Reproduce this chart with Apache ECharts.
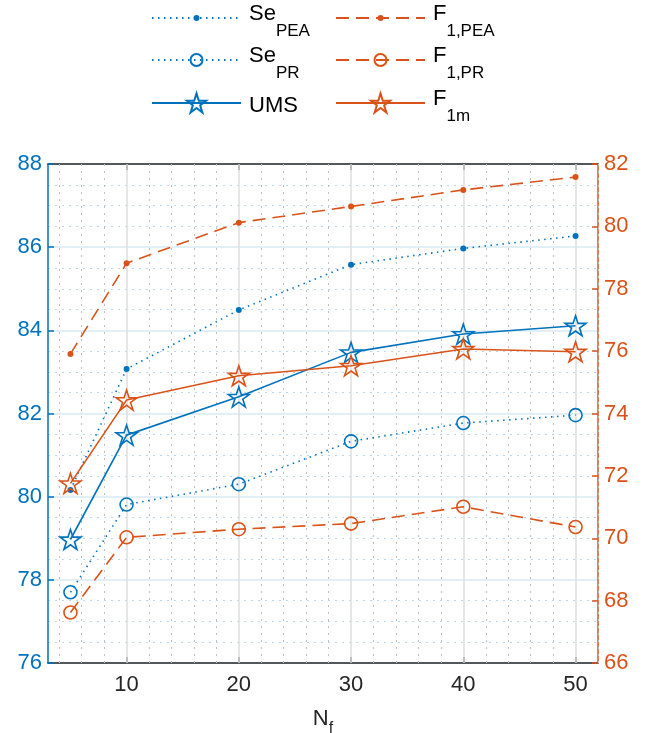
<!DOCTYPE html>
<html><head><meta charset="utf-8">
<script src="https://cdn.jsdelivr.net/npm/echarts@6/dist/echarts.min.js"></script>
<style>html,body{margin:0;padding:0;background:#fff}#c{width:646px;height:733px}</style>
</head><body><div id="c"></div>
<script>
// ---- data ----
const nf = [5, 10, 20, 30, 40, 50];
const sePEA = [80.16, 83.07, 84.49, 85.58, 85.97, 86.27];
const sePR  = [77.70, 79.81, 80.30, 81.33, 81.77, 81.96];
const ums   = [78.97, 81.48, 82.40, 83.47, 83.91, 84.11];
const f1PEA = [75.91, 78.82, 80.12, 80.64, 81.17, 81.58];
const f1PR  = [67.62, 70.03, 70.29, 70.47, 71.01, 70.36];
const f1m   = [71.76, 74.43, 75.21, 75.53, 76.07, 75.98];
const xTicks = [10, 20, 30, 40, 50];
const xMinor = [4, 6, 8, 12, 14, 16, 18, 22, 24, 26, 28, 32, 34, 36, 38, 42, 44, 46, 48, 52];

// ---- style ----
const BLUE = '#0072BD', ORANGE = '#D95319', DARK = '#262626';
const FONT = 'Liberation Sans';
const STAR = 'path://M50 0 L61.23 34.55 L97.55 34.55 L68.16 55.9 L79.39 90.45 L50 69.1 L20.61 90.45 L31.84 55.9 L2.45 34.55 L38.77 34.55 Z';
const DOT = [1.5, 4.5], DASH = [13, 7];

function pairs(ys) { return nf.map((x, i) => [x, ys[i]]); }
function mk(name, ys, yIdx, color, lineType, symbol, size, filled) {
  return {
    name, type: 'line', xAxisIndex: 0, yAxisIndex: yIdx, data: pairs(ys),
    symbol, symbolSize: size, symbolKeepAspect: true, showAllSymbol: true,
    lineStyle: { color, width: 1.6, type: lineType },
    itemStyle: { color: filled ? color : 'rgba(255,255,255,0)', borderColor: color, borderWidth: filled ? 0 : 1.6 },
    emphasis: { disabled: true }, animation: false, z: 3, silent: true
  };
}

const RICH = {
  m: { fontSize: 22, fontFamily: FONT, color: '#000', lineHeight: 22, padding: [0, 0, 8, 3] },
  s: { fontSize: 17, fontFamily: FONT, color: '#000', lineHeight: 17, padding: [26, 0, 0, 0] },
  u: { fontSize: 22, fontFamily: FONT, color: '#000', lineHeight: 22, padding: [6, 0, 0, 3] }
};
function lg(name, left, top, ih, label) {
  return {
    data: [name], left, top, orient: 'vertical', padding: 0, itemWidth: 89, itemHeight: ih,
    selectedMode: false, textStyle: { fontFamily: FONT, color: '#000', rich: RICH },
    formatter: () => label
  };
}

const gridMarks = xMinor.map(v => ({ xAxis: v, lineStyle: { color: 'rgb(190,190,190)', type: [2, 5], width: 1 } }))
  .concat(xTicks.map(v => ({ xAxis: v, lineStyle: { color: 'rgb(222,222,222)', type: 'solid', width: 1.5 } })));

const option = {
  backgroundColor: '#fff',
  animation: false,
  grid: { left: 48, right: 48, top: 164, bottom: 70, containLabel: false, outerBoundsMode: 'none' },
  legend: [
    lg('SePEA', 151, -3.5, 7.5, '{m|Se}{s|PEA}'),
    lg('SePR', 151, 38.5, 15, '{m|Se}{s|PR}'),
    lg('UMS', 151, 89, 24, '{u|UMS}'),
    lg('F1PEA', 335, -3.5, 7.5, '{m|F}{s|1,PEA}'),
    lg('F1PR', 335, 38.5, 15, '{m|F}{s|1,PR}'),
    lg('F1m', 335, 81.5, 24, '{m|F}{s|1m}')
  ],
  xAxis: [
    {
      type: 'value', position: 'bottom', min: 3, max: 52,
      axisLine: { show: true, onZero: false, lineStyle: { color: DARK, width: 1.5 } },
      axisTick: { show: true, inside: true, length: 6, customValues: xTicks, lineStyle: { color: DARK, width: 1.5 } },
      axisLabel: { customValues: xTicks, fontSize: 22, color: DARK, margin: 11, fontFamily: FONT },
      splitLine: { show: false },
      name: '{n|N}{s|f}', nameLocation: 'middle', nameGap: 39,
      nameTextStyle: {
        rich: {
          n: { fontSize: 22, fontFamily: FONT, color: DARK, lineHeight: 24 },
          s: { fontSize: 16, fontFamily: FONT, color: DARK, lineHeight: 16, padding: [20, 0, 0, 0] }
        }
      }
    },
    {
      type: 'value', position: 'top', min: 3, max: 52,
      axisLine: { show: true, onZero: false, lineStyle: { color: DARK, width: 1.5 } },
      axisTick: { show: true, inside: true, length: 6, customValues: xTicks, lineStyle: { color: DARK, width: 1.5 } },
      axisLabel: { show: false },
      splitLine: { show: false }
    }
  ],
  yAxis: [
    {
      type: 'value', position: 'left', min: 76, max: 88, interval: 2,
      axisLine: { show: true, onZero: false, lineStyle: { color: BLUE, width: 1.5 } },
      axisTick: { show: true, inside: true, length: 6, lineStyle: { color: BLUE, width: 1.5 } },
      axisLabel: { color: BLUE, fontSize: 22, fontFamily: FONT, margin: 6 },
      splitLine: { show: true, lineStyle: { color: 'rgb(217,234,245)', width: 1.5 } },
      minorTick: { show: false, splitNumber: 4 },
      minorSplitLine: { show: true, lineStyle: { color: 'rgb(185,215,238)', type: [2, 5], width: 1 } }
    },
    {
      type: 'value', position: 'right', min: 66, max: 82, interval: 2,
      axisLine: { show: true, onZero: false, lineStyle: { color: ORANGE, width: 1.5 } },
      axisTick: { show: true, inside: true, length: 6, lineStyle: { color: ORANGE, width: 1.5 } },
      axisLabel: { color: ORANGE, fontSize: 22, fontFamily: FONT, margin: 6 },
      splitLine: { show: false }
    }
  ],
  series: [
    {
      name: 'xgrid', type: 'line', xAxisIndex: 0, yAxisIndex: 0, data: [], silent: true, z: 1,
      markLine: { silent: true, z: 1, symbol: ['none', 'none'], label: { show: false }, animation: false,
        emphasis: { disabled: true }, data: gridMarks }
    },
    mk('SePEA', sePEA, 0, BLUE, DOT, 'circle', 6, true),
    mk('SePR', sePR, 0, BLUE, DOT, 'circle', 13, false),
    mk('UMS', ums, 0, BLUE, 'solid', STAR, 21, false),
    mk('F1PEA', f1PEA, 1, ORANGE, DASH, 'circle', 6, true),
    mk('F1PR', f1PR, 1, ORANGE, DASH, 'circle', 13, false),
    mk('F1m', f1m, 1, ORANGE, 'solid', STAR, 21, false)
  ]
};
const chart = echarts.init(document.getElementById('c'), null, { renderer: 'canvas' });
chart.setOption(option);
</script></body></html>
